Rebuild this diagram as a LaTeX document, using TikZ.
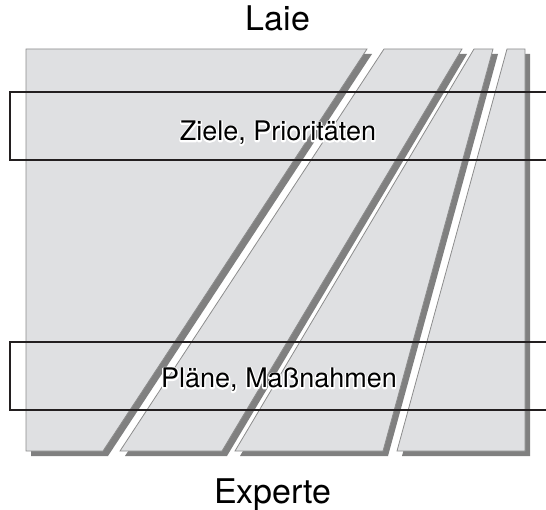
\documentclass[tikz,border=0pt]{standalone}
\usepackage{fontspec}
\setmainfont{TeX Gyre Heros}
\usetikzlibrary{positioning}

\definecolor{stripfill}{HTML}{DFE0E2}
\definecolor{stripline}{HTML}{8C8C8C}
\definecolor{stripshadow}{HTML}{808080}
\definecolor{bandline}{HTML}{231F20}

% white outline behind a text
\newcommand{\halotext}[1]{\makebox[0pt][l]{\color{white}\special{pdf:literal direct 1 1 1 RG 1 Tr 2.8 w 1 J 1 j}#1\special{pdf:literal direct 0 Tr}}#1}

\tikzset{
	strip/.style={draw=stripline, line width=0.8pt, fill=stripfill},
	shadow/.style={fill=stripshadow},
	band/.style={draw=bandline, line width=2.8pt},
	bigtext/.style={font=\fontsize{34}{40}\selectfont, inner sep=0pt},
	bandtext/.style={font=\fontsize{27}{32}\selectfont, inner sep=0pt, anchor=base}
}

\begin{document}
\begin{tikzpicture}[x=1pt, y=-1pt]
	\useasboundingbox (0,0) rectangle (546,510);
	\clip (0,0) rectangle (546,510);
	% shadows first
	\foreach \a/\b/\c/\d in {26/367/103/26, 384/462/222/120, 474/493/383/235, 507/525/525/397}{
		\fill[shadow] (\a+5,54) -- (\b+5,54) -- (\c+5,456) -- (\d+5,456) -- cycle;
	}
	% strips
	\foreach \a/\b/\c/\d in {26/367/103/26, 384/462/222/120, 474/493/383/235, 507/525/525/397}{
		\draw[strip] (\a,49) -- (\b,49) -- (\c,451) -- (\d,451) -- cycle;
	}
	
	% bands
	\draw[band] (10,92) rectangle (560,160);
	\draw[band] (10,342) rectangle (560,410);
	\node[bandtext] (ziele) at (278,141) {\halotext{Ziele, Prioritäten}};
	\node[bandtext] (plaene) at (279,388) {\halotext{Pläne, Maßnahmen}};
	
	\node[bigtext] (laie) at (278,18) {Laie};
	\node[bigtext, anchor=base] (experte) at (273,503) {Experte};
\end{tikzpicture}
\end{document}
